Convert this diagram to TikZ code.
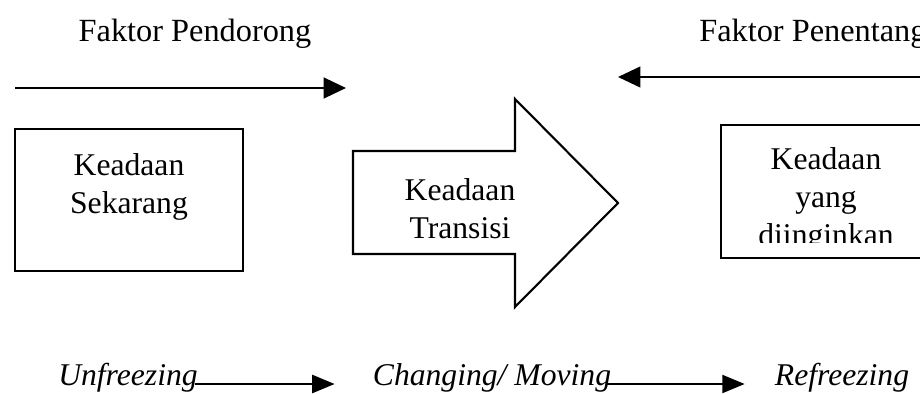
\documentclass[tikz,border=0pt]{standalone}
\usepackage{fontspec}
\setmainfont{Liberation Serif}
\usetikzlibrary{arrows.meta,positioning}
\begin{document}
\begin{tikzpicture}[x=0.025cm,y=-0.025cm]
    \tikzstyle{keadaan}=[rectangle, draw, line width=1.6pt, minimum width=5.7cm, minimum height=3.55cm]
    \tikzstyle{teks}=[inner sep=0pt, align=center, font=\fontsize{22.5}{27}\selectfont]
    \tikzstyle{tahap}=[inner sep=0pt, font=\fontsize{22.5}{27}\selectfont\itshape]
    \tikzstyle{fleche}=[-{Triangle[length=0.56cm, width=0.52cm]}, line width=1.6pt]

    \useasboundingbox (0,0) rectangle (920,394);

    % faktor
    \node[teks, font=\fontsize{23}{27}\selectfont] (pendorong) at (195,34) {Faktor Pendorong};
    \node[teks, font=\fontsize{23}{27}\selectfont, anchor=west] (penentang) at (699,34) {Faktor Penentang};
    \coordinate (pendorong-awal) at (15,88);
    \coordinate (pendorong-akhir) at (346,88);
    \coordinate (penentang-awal) at (925,77);
    \coordinate (penentang-akhir) at (618,77);
    \draw[fleche] (pendorong-awal) -- (pendorong-akhir);
    \draw[fleche, line width=1.3pt] (penentang-awal) -- (penentang-akhir);

    % keadaan sekarang
    \node[keadaan] (sekarang) at (129,200) {};
    \node[teks] (sekarang-teks) at (129,187) {Keadaan\\Sekarang};

    % keadaan transisi
    \draw[line width=1.5pt, line join=miter] (353,151) -- (515,151) -- (515,99) -- (618,203)
        -- (515,307) -- (515,254) -- (353,254) -- cycle;
    \node[teks] (transisi) at (460,209) {Keadaan\\Transisi};

    % keadaan yang diinginkan
    \node[keadaan, minimum width=5.25cm, minimum height=3.325cm] (diinginkan) at (826,191.5) {};
    \begin{scope}
        \clip (700,100) rectangle (940,242);
        \node[teks] (diinginkan-teks) at (826,200) {Keadaan\\yang\\diinginkan};
    \end{scope}

    % tahap
    \node[tahap] (unfreezing) at (128,378) {Unfreezing};
    \node[tahap] (changing) at (492,378) {Changing/ Moving};
    \node[tahap] (refreezing) at (842,378) {Refreezing};
    \draw[fleche, -{Triangle[length=0.56cm, width=0.45cm]}] ([xshift=-0.08cm, yshift=-0.15cm]unfreezing.east) -- ([xshift=-0.95cm, yshift=-0.15cm]changing.west);
    \draw[fleche, -{Triangle[length=0.56cm, width=0.45cm]}] ([xshift=-0.1cm, yshift=-0.15cm]changing.east) -- ([xshift=-0.75cm, yshift=-0.15cm]refreezing.west);
\end{tikzpicture}
\end{document}
